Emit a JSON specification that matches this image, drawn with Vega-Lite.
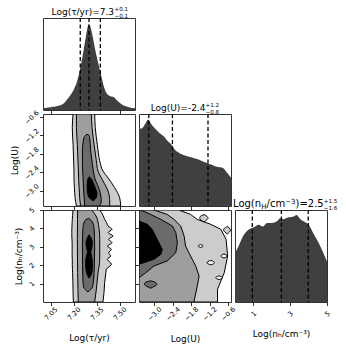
{
  "$schema": "https://vega.github.io/schema/vega-lite/v6.json",
  "padding": {"left": 10, "top": 6, "right": 0, "bottom": 0},
  "config": {
    "font": "DejaVu Sans",
    "view": {"stroke": "#333", "strokeWidth": 1},
    "axis": {"domain": false, "grid": false, "ticks": true, "tickSize": 3.5, "tickColor": "#000", "tickWidth": 0.8,
      "labelFont": "DejaVu Sans", "labelFontSize": 6.8, "labelColor": "#000", "labelAngle": -45, "labelAlign": "center", "labelBaseline": "middle",
      "labelPadding": 8, "labelOverlap": false, "labelBound": false, "labelFlush": false,
      "titleFont": "DejaVu Sans", "titleFontSize": 9, "titleFontWeight": "normal", "titleColor": "#000"},
    "axisX": {"titlePadding": 12},
    "axisY": {"titlePadding": 4}
  },
  "datasets": {
    "tauHist": [
      {"tau": 7.00, "h": 0.018}, {"tau": 7.05, "h": 0.03}, {"tau": 7.10, "h": 0.045}, {"tau": 7.14, "h": 0.08}, {"tau": 7.17, "h": 0.14},
      {"tau": 7.20, "h": 0.22}, {"tau": 7.22, "h": 0.30}, {"tau": 7.24, "h": 0.43}, {"tau": 7.26, "h": 0.60}, {"tau": 7.28, "h": 0.80},
      {"tau": 7.295, "h": 0.92}, {"tau": 7.30, "h": 0.93}, {"tau": 7.31, "h": 0.90}, {"tau": 7.325, "h": 0.79}, {"tau": 7.34, "h": 0.66},
      {"tau": 7.36, "h": 0.51}, {"tau": 7.38, "h": 0.37}, {"tau": 7.40, "h": 0.24}, {"tau": 7.42, "h": 0.17}, {"tau": 7.44, "h": 0.15},
      {"tau": 7.46, "h": 0.14}, {"tau": 7.48, "h": 0.11}, {"tau": 7.50, "h": 0.08}, {"tau": 7.53, "h": 0.045}, {"tau": 7.56, "h": 0.03}, {"tau": 7.60, "h": 0.018}
    ],
    "uHist": [
      {"u": -3.5, "h": 0.855}, {"u": -3.45, "h": 0.84}, {"u": -3.38, "h": 0.85}, {"u": -3.3, "h": 0.89}, {"u": -3.2, "h": 0.94},
      {"u": -3.12, "h": 0.90}, {"u": -3.0, "h": 0.85}, {"u": -2.85, "h": 0.80}, {"u": -2.7, "h": 0.76}, {"u": -2.55, "h": 0.70},
      {"u": -2.45, "h": 0.67}, {"u": -2.35, "h": 0.62}, {"u": -2.2, "h": 0.58}, {"u": -2.0, "h": 0.55}, {"u": -1.8, "h": 0.53},
      {"u": -1.6, "h": 0.51}, {"u": -1.45, "h": 0.49}, {"u": -1.3, "h": 0.47}, {"u": -1.15, "h": 0.45}, {"u": -1.0, "h": 0.43},
      {"u": -0.85, "h": 0.42}, {"u": -0.75, "h": 0.41}, {"u": -0.65, "h": 0.37}, {"u": -0.55, "h": 0.33}, {"u": -0.5, "h": 0.31}
    ],
    "nHist": [
      {"n": 0, "h": 0.53}, {"n": 0.2, "h": 0.61}, {"n": 0.45, "h": 0.72}, {"n": 0.7, "h": 0.78}, {"n": 1.0, "h": 0.81},
      {"n": 1.3, "h": 0.84}, {"n": 1.5, "h": 0.82}, {"n": 1.75, "h": 0.86}, {"n": 2.0, "h": 0.86}, {"n": 2.3, "h": 0.88},
      {"n": 2.45, "h": 0.91}, {"n": 2.65, "h": 0.90}, {"n": 2.9, "h": 0.92}, {"n": 3.2, "h": 0.93}, {"n": 3.35, "h": 0.945},
      {"n": 3.55, "h": 0.90}, {"n": 3.8, "h": 0.87}, {"n": 4.0, "h": 0.84}, {"n": 4.3, "h": 0.73}, {"n": 4.55, "h": 0.64},
      {"n": 4.85, "h": 0.51}, {"n": 5.0, "h": 0.44}
    ],
    "tauQ": [{"q": 7.243}, {"q": 7.30}, {"q": 7.374}],
    "uQ": [{"q": -3.18}, {"q": -2.41}, {"q": -1.25}],
    "nQ": [{"q": 0.94}, {"q": 2.52}, {"q": 3.98}],
    "tauU": [
      {"lev": 1, "u": -0.5, "a": 7.196, "b": 7.337}, {"lev": 1, "u": -0.95, "a": 7.191, "b": 7.341}, {"lev": 1, "u": -1.49, "a": 7.196, "b": 7.354},
      {"lev": 1, "u": -2.03, "a": 7.200, "b": 7.370}, {"lev": 1, "u": -2.36, "a": 7.202, "b": 7.391}, {"lev": 1, "u": -2.58, "a": 7.202, "b": 7.424},
      {"lev": 1, "u": -2.90, "a": 7.205, "b": 7.467}, {"lev": 1, "u": -3.23, "a": 7.209, "b": 7.500}, {"lev": 1, "u": -3.5, "a": 7.218, "b": 7.507},
      {"lev": 2, "u": -0.5, "a": 7.218, "b": 7.315}, {"lev": 2, "u": -0.95, "a": 7.218, "b": 7.320}, {"lev": 2, "u": -1.49, "a": 7.224, "b": 7.333},
      {"lev": 2, "u": -2.03, "a": 7.228, "b": 7.348}, {"lev": 2, "u": -2.36, "a": 7.231, "b": 7.359}, {"lev": 2, "u": -2.68, "a": 7.233, "b": 7.391},
      {"lev": 2, "u": -3.01, "a": 7.237, "b": 7.424}, {"lev": 2, "u": -3.34, "a": 7.241, "b": 7.435}, {"lev": 2, "u": -3.5, "a": 7.246, "b": 7.435},
      {"lev": 3, "u": -1.16, "a": 7.287, "b": 7.287}, {"lev": 3, "u": -1.2, "a": 7.276, "b": 7.300}, {"lev": 3, "u": -1.27, "a": 7.267, "b": 7.304},
      {"lev": 3, "u": -1.71, "a": 7.257, "b": 7.311}, {"lev": 3, "u": -2.14, "a": 7.257, "b": 7.322}, {"lev": 3, "u": -2.58, "a": 7.261, "b": 7.337},
      {"lev": 3, "u": -3.01, "a": 7.265, "b": 7.370}, {"lev": 3, "u": -3.34, "a": 7.270, "b": 7.380}, {"lev": 3, "u": -3.5, "a": 7.272, "b": 7.370},
      {"lev": 4, "u": -2.55, "a": 7.302, "b": 7.302}, {"lev": 4, "u": -2.62, "a": 7.293, "b": 7.316}, {"lev": 4, "u": -2.75, "a": 7.289, "b": 7.328},
      {"lev": 4, "u": -2.9, "a": 7.288, "b": 7.340}, {"lev": 4, "u": -3.1, "a": 7.292, "b": 7.352}, {"lev": 4, "u": -3.22, "a": 7.300, "b": 7.348},
      {"lev": 4, "u": -3.3, "a": 7.318, "b": 7.335}, {"lev": 4, "u": -3.33, "a": 7.326, "b": 7.326}
    ],
    "tauN": [
      {"lev": 1, "n": 5.0, "a": 7.196, "b": 7.370}, {"lev": 1, "n": 4.7, "a": 7.193, "b": 7.392}, {"lev": 1, "n": 4.49, "a": 7.191, "b": 7.402},
      {"lev": 1, "n": 4.31, "a": 7.190, "b": 7.415}, {"lev": 1, "n": 4.13, "a": 7.189, "b": 7.424}, {"lev": 1, "n": 3.95, "a": 7.188, "b": 7.450},
      {"lev": 1, "n": 3.77, "a": 7.188, "b": 7.424}, {"lev": 1, "n": 3.59, "a": 7.188, "b": 7.457}, {"lev": 1, "n": 3.41, "a": 7.189, "b": 7.428},
      {"lev": 1, "n": 3.22, "a": 7.190, "b": 7.450}, {"lev": 1, "n": 3.04, "a": 7.190, "b": 7.420}, {"lev": 1, "n": 2.86, "a": 7.190, "b": 7.446},
      {"lev": 1, "n": 2.68, "a": 7.190, "b": 7.428}, {"lev": 1, "n": 2.50, "a": 7.190, "b": 7.441}, {"lev": 1, "n": 2.32, "a": 7.191, "b": 7.420},
      {"lev": 1, "n": 2.05, "a": 7.191, "b": 7.446}, {"lev": 1, "n": 1.78, "a": 7.192, "b": 7.413}, {"lev": 1, "n": 1.59, "a": 7.193, "b": 7.410},
      {"lev": 1, "n": 1.05, "a": 7.195, "b": 7.402}, {"lev": 1, "n": 0.51, "a": 7.196, "b": 7.398}, {"lev": 1, "n": 0.0, "a": 7.198, "b": 7.391},
      {"lev": 2, "n": 5.0, "a": 7.226, "b": 7.318}, {"lev": 2, "n": 4.49, "a": 7.225, "b": 7.355}, {"lev": 2, "n": 3.41, "a": 7.224, "b": 7.370},
      {"lev": 2, "n": 2.32, "a": 7.225, "b": 7.370}, {"lev": 2, "n": 1.59, "a": 7.226, "b": 7.359}, {"lev": 2, "n": 0.69, "a": 7.228, "b": 7.348},
      {"lev": 2, "n": 0.0, "a": 7.230, "b": 7.337},
      {"lev": 3, "n": 4.55, "a": 7.295, "b": 7.295}, {"lev": 3, "n": 4.4, "a": 7.272, "b": 7.318}, {"lev": 3, "n": 4.0, "a": 7.260, "b": 7.333},
      {"lev": 3, "n": 3.0, "a": 7.257, "b": 7.337}, {"lev": 3, "n": 2.0, "a": 7.258, "b": 7.335}, {"lev": 3, "n": 1.2, "a": 7.260, "b": 7.330},
      {"lev": 3, "n": 0.8, "a": 7.266, "b": 7.322}, {"lev": 3, "n": 0.55, "a": 7.293, "b": 7.293},
      {"lev": 4, "n": 3.65, "a": 7.300, "b": 7.300}, {"lev": 4, "n": 3.45, "a": 7.288, "b": 7.315}, {"lev": 4, "n": 3.2, "a": 7.280, "b": 7.322},
      {"lev": 4, "n": 2.95, "a": 7.285, "b": 7.318}, {"lev": 4, "n": 2.7, "a": 7.290, "b": 7.312}, {"lev": 4, "n": 2.45, "a": 7.282, "b": 7.318},
      {"lev": 4, "n": 2.1, "a": 7.278, "b": 7.322}, {"lev": 4, "n": 1.8, "a": 7.280, "b": 7.322}, {"lev": 4, "n": 1.5, "a": 7.288, "b": 7.315},
      {"lev": 4, "n": 1.3, "a": 7.300, "b": 7.300}
    ],
    "uN": [
      {"lev": 1, "n": 5.0, "a": -3.5, "b": -2.20}, {"lev": 1, "n": 4.76, "a": -3.5, "b": -1.82}, {"lev": 1, "n": 4.49, "a": -3.5, "b": -1.60},
      {"lev": 1, "n": 4.22, "a": -3.5, "b": -1.16}, {"lev": 1, "n": 3.95, "a": -3.5, "b": -0.83}, {"lev": 1, "n": 3.41, "a": -3.5, "b": -0.66},
      {"lev": 1, "n": 2.5, "a": -3.5, "b": -0.61}, {"lev": 1, "n": 1.59, "a": -3.5, "b": -0.72}, {"lev": 1, "n": 0.69, "a": -3.5, "b": -0.94},
      {"lev": 1, "n": 0.0, "a": -3.5, "b": -0.94},
      {"lev": 2, "n": 5.0, "a": -3.5, "b": -3.01}, {"lev": 2, "n": 4.76, "a": -3.5, "b": -2.58}, {"lev": 2, "n": 4.49, "a": -3.5, "b": -2.36},
      {"lev": 2, "n": 4.13, "a": -3.5, "b": -2.14}, {"lev": 2, "n": 3.59, "a": -3.5, "b": -2.03}, {"lev": 2, "n": 3.04, "a": -3.5, "b": -1.98},
      {"lev": 2, "n": 2.5, "a": -3.5, "b": -1.82}, {"lev": 2, "n": 1.96, "a": -3.5, "b": -1.65}, {"lev": 2, "n": 1.41, "a": -3.5, "b": -1.54},
      {"lev": 2, "n": 0.87, "a": -3.5, "b": -1.60}, {"lev": 2, "n": 0.0, "a": -3.5, "b": -1.71},
      {"lev": 3, "n": 5.0, "a": -3.5, "b": -3.446}, {"lev": 3, "n": 4.76, "a": -3.5, "b": -3.12}, {"lev": 3, "n": 4.49, "a": -3.5, "b": -2.79},
      {"lev": 3, "n": 4.13, "a": -3.5, "b": -2.41}, {"lev": 3, "n": 3.77, "a": -3.5, "b": -2.30}, {"lev": 3, "n": 3.22, "a": -3.5, "b": -2.25},
      {"lev": 3, "n": 2.68, "a": -3.5, "b": -2.30}, {"lev": 3, "n": 2.23, "a": -3.5, "b": -2.58}, {"lev": 3, "n": 1.96, "a": -3.5, "b": -3.01},
      {"lev": 3, "n": 1.59, "a": -3.5, "b": -3.28}, {"lev": 3, "n": 1.32, "a": -3.5, "b": -3.5},
      {"lev": 4, "n": 4.4, "a": -3.5, "b": -3.5}, {"lev": 4, "n": 4.22, "a": -3.5, "b": -3.23}, {"lev": 4, "n": 3.95, "a": -3.5, "b": -3.07},
      {"lev": 4, "n": 3.59, "a": -3.5, "b": -2.96}, {"lev": 4, "n": 3.22, "a": -3.5, "b": -2.85}, {"lev": 4, "n": 2.86, "a": -3.5, "b": -2.74},
      {"lev": 4, "n": 2.59, "a": -3.5, "b": -2.79}, {"lev": 4, "n": 2.32, "a": -3.5, "b": -3.01}, {"lev": 4, "n": 2.05, "a": -3.5, "b": -3.5}
    ],
    "uNis": [
      {"kind": "hole", "id": 1, "n": 2.26, "a": -1.16, "b": -1.16}, {"kind": "hole", "id": 1, "n": 2.2, "a": -1.25, "b": -1.07}, {"kind": "hole", "id": 1, "n": 2.14, "a": -1.28, "b": -1.04}, {"kind": "hole", "id": 1, "n": 2.08, "a": -1.25, "b": -1.07}, {"kind": "hole", "id": 1, "n": 2.02, "a": -1.16, "b": -1.16},
      {"kind": "hole", "id": 2, "n": 1.42, "a": -0.89, "b": -0.89}, {"kind": "hole", "id": 2, "n": 1.37, "a": -0.97, "b": -0.81}, {"kind": "hole", "id": 2, "n": 1.32, "a": -1.0, "b": -0.78}, {"kind": "hole", "id": 2, "n": 1.27, "a": -0.97, "b": -0.81}, {"kind": "hole", "id": 2, "n": 1.22, "a": -0.89, "b": -0.89},
      {"kind": "hole", "id": 3, "n": 3.12, "a": -1.49, "b": -1.49}, {"kind": "hole", "id": 3, "n": 3.08, "a": -1.55, "b": -1.43}, {"kind": "hole", "id": 3, "n": 3.04, "a": -1.57, "b": -1.41}, {"kind": "hole", "id": 3, "n": 3.0, "a": -1.55, "b": -1.43}, {"kind": "hole", "id": 3, "n": 2.96, "a": -1.49, "b": -1.49},
      {"kind": "hole", "id": 4, "n": 2.62, "a": -0.73, "b": -0.73}, {"kind": "hole", "id": 4, "n": 2.56, "a": -0.8, "b": -0.66}, {"kind": "hole", "id": 4, "n": 2.5, "a": -0.83, "b": -0.63}, {"kind": "hole", "id": 4, "n": 2.44, "a": -0.8, "b": -0.66}, {"kind": "hole", "id": 4, "n": 2.38, "a": -0.73, "b": -0.73},
      {"kind": "light", "id": 5, "n": 4.75, "a": -1.38, "b": -1.38}, {"kind": "light", "id": 5, "n": 4.65, "a": -1.5, "b": -1.28}, {"kind": "light", "id": 5, "n": 4.55, "a": -1.52, "b": -1.25}, {"kind": "light", "id": 5, "n": 4.45, "a": -1.48, "b": -1.3}, {"kind": "light", "id": 5, "n": 4.35, "a": -1.38, "b": -1.38},
      {"kind": "light", "id": 6, "n": 4.1, "a": -0.62, "b": -0.62}, {"kind": "light", "id": 6, "n": 4.0, "a": -0.72, "b": -0.54}, {"kind": "light", "id": 6, "n": 3.9, "a": -0.74, "b": -0.52}, {"kind": "light", "id": 6, "n": 3.8, "a": -0.7, "b": -0.55}, {"kind": "light", "id": 6, "n": 3.7, "a": -0.62, "b": -0.62},
      {"kind": "dark", "id": 7, "n": 1.15, "a": -3.12, "b": -3.12}, {"kind": "dark", "id": 7, "n": 1.05, "a": -3.3, "b": -2.95}, {"kind": "dark", "id": 7, "n": 0.95, "a": -3.32, "b": -2.92}, {"kind": "dark", "id": 7, "n": 0.85, "a": -3.25, "b": -3.0}, {"kind": "dark", "id": 7, "n": 0.75, "a": -3.12, "b": -3.12}
    ]
  },
  "columns": 3,
  "spacing": 4,
  "bounds": "flush",
  "resolve": {"scale": {"x": "independent", "y": "independent"}},
  "concat": [
    {
      "width": 92, "height": 92,
      "layer": [
        {"data": {"name": "tauHist"}, "mark": {"type": "area", "color": "#404040", "interpolate": "monotone"},
         "encoding": {
           "x": {"field": "tau", "type": "quantitative", "scale": {"domain": [7.0, 7.6], "nice": false, "zero": false}, "axis": {"values": [7.05, 7.2, 7.35, 7.5], "labels": false, "title": null}},
           "y": {"field": "h", "type": "quantitative", "scale": {"domain": [0, 1], "nice": false}, "axis": null}}},
        {"data": {"name": "tauQ"}, "mark": {"type": "rule", "strokeDash": [4, 2.5], "strokeWidth": 1.3, "color": "#000"},
         "encoding": {"x": {"field": "q", "type": "quantitative"}}},
        {"data": {"values": [{}]}, "mark": {"type": "text", "text": "Log(τ/yr)=7.3", "align": "left", "baseline": "alphabetic", "fontSize": 9, "color": "#000"},
         "encoding": {"x": {"datum": 7.056}, "y": {"datum": 1.0326}}},
        {"data": {"values": [{}]}, "mark": {"type": "text", "text": "+0.1", "align": "left", "baseline": "alphabetic", "fontSize": 5.6, "color": "#000"},
         "encoding": {"x": {"datum": 7.466}, "y": {"datum": 1.076}}},
        {"data": {"values": [{}]}, "mark": {"type": "text", "text": "−0.1", "align": "left", "baseline": "alphabetic", "fontSize": 5.6, "color": "#000"},
         "encoding": {"x": {"datum": 7.466}, "y": {"datum": 1.0}}}
      ]
    },
    {"width": 92, "height": 92, "data": {"values": []}, "mark": "point", "encoding": {}, "view": {"stroke": null}},
    {"width": 92, "height": 92, "data": {"values": []}, "mark": "point", "encoding": {}, "view": {"stroke": null}},
    {
      "width": 92, "height": 92,
      "data": {"name": "tauU"},
      "encoding": {
        "y": {"field": "u", "type": "quantitative", "scale": {"domain": [-3.5, -0.5], "nice": false, "zero": false}, "axis": {"values": [-3.0, -2.4, -1.8, -1.2, -0.6], "format": ".1f", "title": "Log(U)"}},
        "x": {"field": "a", "type": "quantitative", "scale": {"domain": [7.0, 7.6], "nice": false, "zero": false}, "axis": {"values": [7.05, 7.2, 7.35, 7.5], "labels": false, "title": null}},
        "x2": {"field": "b"}
      },
      "layer": [
        {"transform": [{"filter": "datum.lev == 1"}], "mark": {"type": "area", "orient": "horizontal", "interpolate": "monotone", "color": "#cccccc", "stroke": "#000", "strokeWidth": 1, "clip": true}},
        {"transform": [{"filter": "datum.lev == 2"}], "mark": {"type": "area", "orient": "horizontal", "interpolate": "monotone", "color": "#9e9e9e", "stroke": "#000", "strokeWidth": 1, "clip": true}},
        {"transform": [{"filter": "datum.lev == 3"}], "mark": {"type": "area", "orient": "horizontal", "interpolate": "monotone", "color": "#6b6b6b", "stroke": "#000", "strokeWidth": 1, "clip": true}},
        {"transform": [{"filter": "datum.lev == 4"}], "mark": {"type": "area", "orient": "horizontal", "interpolate": "monotone", "color": "#000000", "stroke": "#000", "strokeWidth": 1, "clip": true}}
      ]
    },
    {
      "width": 92, "height": 92,
      "layer": [
        {"data": {"name": "uHist"}, "mark": {"type": "area", "color": "#404040", "interpolate": "monotone"},
         "encoding": {
           "x": {"field": "u", "type": "quantitative", "scale": {"domain": [-3.5, -0.5], "nice": false, "zero": false}, "axis": {"values": [-3.0, -2.4, -1.8, -1.2, -0.6], "labels": false, "title": null}},
           "y": {"field": "h", "type": "quantitative", "scale": {"domain": [0, 1], "nice": false}, "axis": null}}},
        {"data": {"name": "uQ"}, "mark": {"type": "rule", "strokeDash": [4, 2.5], "strokeWidth": 1.3, "color": "#000"},
         "encoding": {"x": {"field": "q", "type": "quantitative"}}},
        {"data": {"values": [{}]}, "mark": {"type": "text", "text": "Log(U)=-2.4", "align": "left", "baseline": "alphabetic", "fontSize": 9, "color": "#000"},
         "encoding": {"x": {"datum": -3.12}, "y": {"datum": 1.0326}}},
        {"data": {"values": [{}]}, "mark": {"type": "text", "text": "+1.2", "align": "left", "baseline": "alphabetic", "fontSize": 5.6, "color": "#000"},
         "encoding": {"x": {"datum": -1.33}, "y": {"datum": 1.076}}},
        {"data": {"values": [{}]}, "mark": {"type": "text", "text": "−0.8", "align": "left", "baseline": "alphabetic", "fontSize": 5.6, "color": "#000"},
         "encoding": {"x": {"datum": -1.33}, "y": {"datum": 1.0}}}
      ]
    },
    {"width": 92, "height": 92, "data": {"values": []}, "mark": "point", "encoding": {}, "view": {"stroke": null}},
    {
      "width": 92, "height": 92,
      "data": {"name": "tauN"},
      "encoding": {
        "y": {"field": "n", "type": "quantitative", "scale": {"domain": [0, 5], "nice": false, "zero": false}, "axis": {"values": [1, 2, 3, 4, 5], "format": "d", "title": "Log(nₕ/cm⁻³)"}},
        "x": {"field": "a", "type": "quantitative", "scale": {"domain": [7.0, 7.6], "nice": false, "zero": false}, "axis": {"values": [7.05, 7.2, 7.35, 7.5], "format": ".2f", "title": "Log(τ/yr)"}},
        "x2": {"field": "b"}
      },
      "layer": [
        {"transform": [{"filter": "datum.lev == 1"}], "mark": {"type": "area", "orient": "horizontal", "interpolate": "monotone", "color": "#cccccc", "stroke": "#000", "strokeWidth": 1, "clip": true}},
        {"transform": [{"filter": "datum.lev == 2"}], "mark": {"type": "area", "orient": "horizontal", "interpolate": "monotone", "color": "#9e9e9e", "stroke": "#000", "strokeWidth": 1, "clip": true}},
        {"transform": [{"filter": "datum.lev == 3"}], "mark": {"type": "area", "orient": "horizontal", "interpolate": "monotone", "color": "#6b6b6b", "stroke": "#000", "strokeWidth": 1, "clip": true}},
        {"transform": [{"filter": "datum.lev == 4"}], "mark": {"type": "area", "orient": "horizontal", "interpolate": "monotone", "color": "#000000", "stroke": "#000", "strokeWidth": 1, "clip": true}}
      ]
    },
    {
      "width": 92, "height": 92,
      "encoding": {
        "y": {"field": "n", "type": "quantitative", "scale": {"domain": [0, 5], "nice": false, "zero": false}, "axis": {"values": [1, 2, 3, 4, 5], "labels": false, "title": null}},
        "x": {"field": "a", "type": "quantitative", "scale": {"domain": [-3.5, -0.5], "nice": false, "zero": false}, "axis": {"values": [-3.0, -2.4, -1.8, -1.2, -0.6], "format": ".1f", "title": "Log(U)"}},
        "x2": {"field": "b"}
      },
      "layer": [
        {"data": {"name": "uN"}, "transform": [{"filter": "datum.lev == 1"}], "mark": {"type": "area", "orient": "horizontal", "interpolate": "linear", "color": "#cccccc", "stroke": "#000", "strokeWidth": 1, "clip": true}},
        {"data": {"name": "uN"}, "transform": [{"filter": "datum.lev == 2"}], "mark": {"type": "area", "orient": "horizontal", "interpolate": "linear", "color": "#9e9e9e", "stroke": "#000", "strokeWidth": 1, "clip": true}},
        {"data": {"name": "uN"}, "transform": [{"filter": "datum.lev == 3"}], "mark": {"type": "area", "orient": "horizontal", "interpolate": "linear", "color": "#6b6b6b", "stroke": "#000", "strokeWidth": 1, "clip": true}},
        {"data": {"name": "uN"}, "transform": [{"filter": "datum.lev == 4"}], "mark": {"type": "area", "orient": "horizontal", "interpolate": "linear", "color": "#000000", "stroke": "#000", "strokeWidth": 1, "clip": true}},
        {"data": {"name": "uNis"}, "transform": [{"filter": "datum.kind == 'hole'"}], "mark": {"type": "area", "orient": "horizontal", "interpolate": "monotone", "color": "#ffffff", "stroke": "#000", "strokeWidth": 1, "clip": true},
         "encoding": {"detail": {"field": "id"}}},
        {"data": {"name": "uNis"}, "transform": [{"filter": "datum.kind == 'light'"}], "mark": {"type": "area", "orient": "horizontal", "interpolate": "monotone", "color": "#cccccc", "stroke": "#000", "strokeWidth": 1, "clip": true},
         "encoding": {"detail": {"field": "id"}}},
        {"data": {"name": "uNis"}, "transform": [{"filter": "datum.kind == 'dark'"}], "mark": {"type": "area", "orient": "horizontal", "interpolate": "monotone", "color": "#6b6b6b", "stroke": "#000", "strokeWidth": 1, "clip": true},
         "encoding": {"detail": {"field": "id"}}}
      ]
    },
    {
      "width": 92, "height": 92,
      "layer": [
        {"data": {"name": "nHist"}, "mark": {"type": "area", "color": "#404040", "interpolate": "monotone"},
         "encoding": {
           "x": {"field": "n", "type": "quantitative", "scale": {"domain": [0, 5], "nice": false, "zero": false}, "axis": {"values": [1, 2, 3, 4, 5], "format": "d", "title": "Log(nₕ/cm⁻³)"}},
           "y": {"field": "h", "type": "quantitative", "scale": {"domain": [0, 1], "nice": false}, "axis": null}}},
        {"data": {"name": "nQ"}, "mark": {"type": "rule", "strokeDash": [4, 2.5], "strokeWidth": 1.3, "color": "#000"},
         "encoding": {"x": {"field": "q", "type": "quantitative"}}},
        {"data": {"values": [{}]}, "mark": {"type": "text", "text": "Log(n", "align": "left", "baseline": "alphabetic", "fontSize": 10, "color": "#000"},
         "encoding": {"x": {"datum": -0.109}, "y": {"datum": 1.0326}}},
        {"data": {"values": [{}]}, "mark": {"type": "text", "text": "H", "align": "left", "baseline": "alphabetic", "fontSize": 7, "color": "#000"},
         "encoding": {"x": {"datum": 1.429}, "y": {"datum": 1.01}}},
        {"data": {"values": [{}]}, "mark": {"type": "text", "text": "/cm", "align": "left", "baseline": "alphabetic", "fontSize": 10, "color": "#000"},
         "encoding": {"x": {"datum": 1.717}, "y": {"datum": 1.0326}}},
        {"data": {"values": [{}]}, "mark": {"type": "text", "text": "−3", "align": "left", "baseline": "alphabetic", "fontSize": 7, "color": "#000"},
         "encoding": {"x": {"datum": 2.728}, "y": {"datum": 1.07}}},
        {"data": {"values": [{}]}, "mark": {"type": "text", "text": ")=2.5", "align": "left", "baseline": "alphabetic", "fontSize": 10, "color": "#000"},
         "encoding": {"x": {"datum": 3.288}, "y": {"datum": 1.0326}}},
        {"data": {"values": [{}]}, "mark": {"type": "text", "text": "+1.5", "align": "left", "baseline": "alphabetic", "fontSize": 5.6, "color": "#000"},
         "encoding": {"x": {"datum": 4.821}, "y": {"datum": 1.076}}},
        {"data": {"values": [{}]}, "mark": {"type": "text", "text": "−1.6", "align": "left", "baseline": "alphabetic", "fontSize": 5.6, "color": "#000"},
         "encoding": {"x": {"datum": 4.821}, "y": {"datum": 1.0}}}
      ]
    }
  ]
}
